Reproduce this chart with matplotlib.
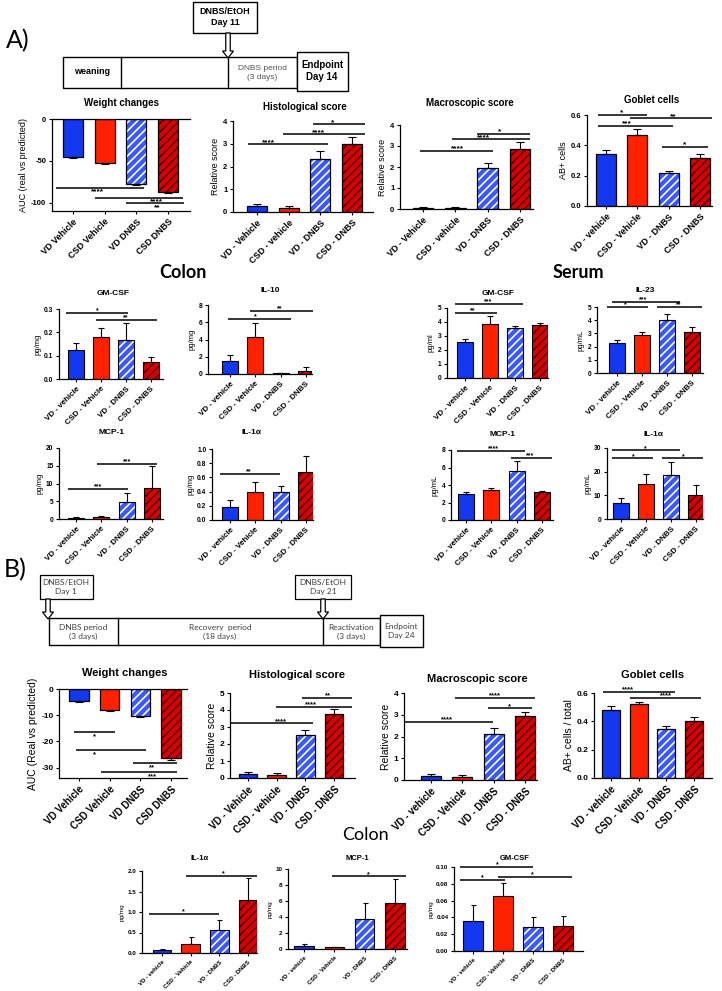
import matplotlib
matplotlib.use("Agg")
import matplotlib.pyplot as plt
from matplotlib.patches import Rectangle, FancyArrow

plt.rcParams['font.family'] = ['Liberation Sans', 'DejaVu Sans']
plt.rcParams['font.weight'] = 'bold'
plt.rcParams['hatch.linewidth'] = 1.2
plt.rcParams['axes.linewidth'] = 0.9

# ---------------- data ----------------
lab_weight = ["VD Vehicle", "CSD Vehicle", "VD DNBS", "CSD DNBS"]
lab_hist = ["VD - Vehicle", "CSD - vehicle", "VD - DNBS", "CSD - DNBS"]
lab_std = ["VD - vehicle", "CSD - Vehicle", "VD - DNBS", "CSD - DNBS"]

# Panel A, row 1
a_weight = [-46, -53, -78, -87]
a_weight_err = [1.0, 1.0, 1.5, 1.5]
a_hist = [0.25, 0.17, 2.35, 3.0]
a_hist_err = [0.12, 0.10, 0.33, 0.30]
a_macro = [0.05, 0.05, 1.93, 2.87]
a_macro_err = [0.05, 0.05, 0.28, 0.30]
a_goblet = [0.34, 0.47, 0.215, 0.315]
a_goblet_err = [0.028, 0.04, 0.018, 0.03]
# Panel A, colon cytokines
a_c_gmcsf = [0.125, 0.18, 0.168, 0.072]
a_c_gmcsf_err = [0.031, 0.037, 0.072, 0.023]
a_c_il10 = [1.55, 4.25, 0.08, 0.35]
a_c_il10_err = [0.7, 1.65, 0.08, 0.42]
a_c_mcp1 = [0.3, 0.5, 4.9, 8.8]
a_c_mcp1_err = [0.2, 0.25, 2.3, 6.1]
a_c_il1a = [0.19, 0.40, 0.39, 0.67]
a_c_il1a_err = [0.09, 0.14, 0.09, 0.23]
# Panel A, serum cytokines
a_s_gmcsf = [2.6, 3.85, 3.55, 3.77]
a_s_gmcsf_err = [0.22, 0.6, 0.15, 0.15]
a_s_il23 = [2.25, 2.85, 4.0, 3.1]
a_s_il23_err = [0.25, 0.22, 0.5, 0.4]
a_s_mcp1 = [2.95, 3.4, 5.6, 3.25]
a_s_mcp1_err = [0.2, 0.3, 1.15, 0.1]
a_s_il1a = [6.8, 15.0, 18.6, 10.3]
a_s_il1a_err = [2.0, 4.0, 5.5, 4.0]
# Panel B, row 1
b_weight = [-4.5, -8.0, -10.3, -26.5]
b_weight_err = [0.5, 0.5, 0.5, 0.6]
b_hist = [0.22, 0.17, 2.55, 3.78]
b_hist_err = [0.12, 0.12, 0.30, 0.27]
b_macro = [0.18, 0.12, 2.1, 2.92]
b_macro_err = [0.10, 0.10, 0.30, 0.22]
b_goblet = [0.48, 0.52, 0.345, 0.405]
b_goblet_err = [0.025, 0.02, 0.02, 0.025]
# Panel B, colon cytokines
b_il1a = [0.07, 0.22, 0.57, 1.29]
b_il1a_err = [0.03, 0.16, 0.23, 0.53]
b_mcp1 = [0.4, 0.2, 3.7, 5.7]
b_mcp1_err = [0.2, 0.1, 2.0, 3.1]
b_gmcsf = [0.036, 0.065, 0.028, 0.030]
b_gmcsf_err = [0.019, 0.016, 0.012, 0.012]

# significance annotations: (from, to, y, label, label x)
a_weight_sig = [(-0.54, 2.24, -82, '****', 0.76), (0.69, 3.47, -94, '****', 2.65),
                (1.67, 3.52, -101, '**', 2.65)]
a_hist_sig = [(-0.28, 2.24, 2.98, '****', 0.35), (0.82, 3.41, 3.42, '****', 1.93),
              (1.77, 3.41, 3.85, '*', 2.4)]
a_macro_sig = [(-0.09, 2.17, 2.78, '****', 1.08), (0.9, 3.31, 3.32, '****', 1.86),
               (1.67, 3.31, 3.57, '*', 2.38)]
a_goblet_sig = [(-0.26, 1.31, 0.60, '*', 0.51), (0.77, 3.39, 0.578, '**', 2.14),
                (-0.26, 2.14, 0.527, '***', 0.67), (1.79, 3.26, 0.39, '*', 2.52)]
a_c_gmcsf_sig = [(-0.4, 2.08, 0.283, '*', 0.84), (0.8, 3.24, 0.253, '**', 2.0)]
a_c_il10_sig = [(-0.08, 2.41, 6.4, '*', 1.0), (0.79, 3.28, 7.3, '**', 1.98)]
a_c_mcp1_sig = [(0.83, 3.2, 15.5, '***', 2.0), (-0.32, 2.06, 8.5, '***', 0.87)]
a_c_il1a_sig = [(-0.4, 1.98, 0.65, '**', 0.72)]
a_s_gmcsf_sig = [(-0.4, 2.32, 5.3, '***', 0.92), (-0.4, 1.28, 4.65, '**', 0.32)]
a_s_il23_sig = [(-0.2, 2.52, 5.4, '***', 1.04), (-0.4, 1.24, 5.0, '*', 0.32),
                (1.6, 3.4, 5.0, '**', 2.48)]
a_s_mcp1_sig = [(-0.36, 2.33, 7.9, '****', 1.07), (1.78, 3.4, 7.1, '***', 2.53)]
a_s_il1a_sig = [(-0.36, 2.36, 29, '*', 0.96), (-0.36, 1.28, 25.7, '*', 0.48),
                (1.64, 3.28, 25.7, '*', 2.48)]
b_weight_sig = [(-0.16, 1.17, -16.4, '*', 0.5), (-0.1, 2.2, -23.3, '*', 0.5),
                (1.76, 3.2, -28.4, '**', 2.38), (0.72, 3.2, -31.6, '***', 2.38)]
b_hist_sig = [(-0.63, 2.26, 3.22, '****', 1.15), (0.98, 3.62, 4.2, '****', 2.2),
              (1.88, 3.62, 4.7, '**', 2.79)]
b_macro_sig = [(-0.83, 1.98, 2.67, '****', 0.51), (1.82, 3.23, 3.3, '*', 2.5),
               (0.77, 3.32, 3.77, '****', 2.05)]
b_goblet_sig = [(-0.29, 2.31, 0.61, '****', 0.61), (0.69, 3.25, 0.565, '****', 2.0)]
b_il1a_sig = [(-0.45, 1.99, 0.96, '*', 0.73), (0.84, 3.31, 1.88, '*', 2.13)]
b_mcp1_sig = [(0.92, 3.37, 9.1, '*', 2.11)]
b_gmcsf_sig = [(-0.43, 2.0, 0.1, '*', 0.8), (-0.43, 1.07, 0.085, '*', 0.3),
               (0.83, 3.3, 0.088, '*', 1.97)]

# ---------------- figure ----------------
W, H = 722, 991
fig = plt.figure(figsize=(W / 100, H / 100), dpi=100)
fig.patch.set_facecolor('white')

BLUE = '#1437f0'
RED = '#ff2200'
HBLUE_FACE = '#3a58ff'
HRED_FACE = '#d80000'
HRED_LINE = '#5a0000'


def fx(x):
    return x / W


def fy(y):
    return 1 - y / H


def hbar(ax, x, h, w, face, hc):
    try:
        ax.bar(x, h, w, color=face, edgecolor=hc, hatch='////', linewidth=0,
               hatchcolor=hc, zorder=2)
    except Exception:
        ax.bar(x, h, w, color=face, edgecolor=hc, hatch='////', linewidth=0,
               zorder=2)


def chart(rect, centers, ylim, yticks, yfmt, vals, errs, xlabels, ylabel,
          title, title_xy, sigs, fs, neg=False):
    tfs, xfs, ylfs, titfs, sfs, cap, blw = fs
    l, r, t, b = rect
    ax = fig.add_axes([fx(l), fy(b), (r - l) / W, (b - t) / H])
    c0, c3 = centers
    sp = (c3 - c0) / 3.0
    ax.set_xlim((l - c0) / sp, (r - c0) / sp)
    ax.set_ylim(*ylim)
    wdt = 0.64
    ax.bar(0, vals[0], wdt, color=BLUE, zorder=2)
    ax.bar(1, vals[1], wdt, color=RED, zorder=2)
    hbar(ax, 2, vals[2], wdt, HBLUE_FACE, 'white')
    hbar(ax, 3, vals[3], wdt, HRED_FACE, HRED_LINE)
    ax.bar(range(4), vals, wdt, fill=False, edgecolor='black', linewidth=blw, zorder=3)
    zeros = [0] * 4
    yerr = [errs, zeros] if neg else [zeros, errs]
    ax.errorbar(range(4), vals, yerr=yerr, fmt='none', ecolor='black',
                elinewidth=0.8, capsize=cap, capthick=0.8, zorder=4)
    ax.spines['right'].set_visible(False)
    ax.spines['top'].set_visible(neg)
    ax.set_yticks(yticks)
    ax.set_yticklabels([yfmt.format(v) for v in yticks], fontsize=tfs)
    ax.set_xticks(range(4))
    ax.set_xticklabels(xlabels, rotation=45, ha='right', rotation_mode='anchor',
                       fontsize=xfs)
    ax.tick_params(axis='y', length=2.5, width=0.8, pad=1.5)
    ax.tick_params(axis='x', length=2.5, width=0.8, pad=2)
    ax.set_ylabel(ylabel, fontsize=ylfs, labelpad=2)
    ax.patch.set_alpha(0)
    for (x1, x2, y, lab, lx) in sigs:
        ax.plot([x1, x2], [y, y], color='black', lw=1.1, clip_on=False, zorder=5,
                solid_capstyle='butt')
        if neg:
            ax.annotate(lab, (lx, y), xytext=(0, -0.8), textcoords='offset points',
                        ha='center', va='top', fontsize=sfs, annotation_clip=False)
        else:
            ax.annotate(lab, (lx, y), xytext=(0, 0.3), textcoords='offset points',
                        ha='center', va='baseline', fontsize=sfs, annotation_clip=False)
    fig.text(fx(title_xy[0]), fy(title_xy[1]), title, ha='center', va='center',
             fontsize=titfs)
    return ax


FS_A1 = (5.5, 6.5, 6.5, 7, 6, 2.8, 0.9)
FS_A2 = (4.8, 5.8, 5.5, 6, 5, 2.2, 0.8)
FS_B1 = (6, 7, 7.5, 8, 5.5, 2.6, 0.9)
FS_B2 = (4.5, 4.3, 4.6, 5.5, 5, 1.8, 0.8)

# ---- Panel A row 1 ----
chart((52, 190, 119, 211), (73, 168), (-110, 0), [0, -50, -100], '{:g}',
      a_weight, a_weight_err, lab_weight, 'AUC (real vs predicted)',
      'Weight changes', (122, 103), a_weight_sig, FS_A1, neg=True)
chart((233, 373, 121, 212), (257, 352), (0, 4), [0, 1, 2, 3, 4], '{:g}',
      a_hist, a_hist_err, lab_hist, 'Relative score',
      'Histological score', (305, 107), a_hist_sig, FS_A1)
chart((400, 533, 125, 209), (423, 520), (0, 4), [0, 1, 2, 3, 4], '{:g}',
      a_macro, a_macro_err, lab_hist, 'Relative score',
      'Macroscopic score', (470, 103), a_macro_sig, FS_A1)
chart((587, 712, 115, 206), (606, 700), (0, 0.6), [0, 0.2, 0.4, 0.6], '{:.1f}',
      a_goblet, a_goblet_err, lab_std, 'AB+ cells',
      'Goblet cells', (652, 100), a_goblet_sig, FS_A1)

# ---- Panel A rows 2-3 ----
chart((59, 163, 309, 379), (76, 151), (0, 0.3), [0, 0.1, 0.2, 0.3], '{:.1f}',
      a_c_gmcsf, a_c_gmcsf_err, lab_std, 'pg/mg', 'GM-CSF', (113, 293),
      a_c_gmcsf_sig, FS_A2)
chart((208, 312, 305, 374), (230, 306), (0, 8), [0, 2, 4, 6, 8], '{:g}',
      a_c_il10, a_c_il10_err, lab_std, 'pg/mg', 'IL-10', (270, 290),
      a_c_il10_sig, FS_A2)
chart((447, 548, 308, 378), (465, 540), (0, 5), [0, 1, 2, 3, 4, 5], '{:g}',
      a_s_gmcsf, a_s_gmcsf_err, lab_std, 'pg/ml', 'GM-CSF', (498, 293),
      a_s_gmcsf_sig, FS_A2)
chart((597, 703, 307, 373), (617, 692), (0, 5), [0, 1, 2, 3, 4, 5], '{:g}',
      a_s_il23, a_s_il23_err, lab_std, 'pg/mL', 'IL-23', (645, 290),
      a_s_il23_sig, FS_A2)
chart((59, 163, 448, 519), (76, 152), (0, 20), [0, 5, 10, 15, 20], '{:g}',
      a_c_mcp1, a_c_mcp1_err, lab_std, 'pg/mg', 'MCP-1', (112, 433),
      a_c_mcp1_sig, FS_A2)
chart((212, 313, 449, 520), (230, 306), (0, 1.0), [0, 0.2, 0.4, 0.6, 0.8, 1.0], '{:.1f}',
      a_c_il1a, a_c_il1a_err, lab_std, 'pg/mg', 'IL-1\u03b1', (252, 433),
      a_c_il1a_sig, FS_A2)
chart((451, 553, 450, 520), (466, 542), (0, 8), [0, 2, 4, 6, 8], '{:g}',
      a_s_mcp1, a_s_mcp1_err, lab_std, 'pg/mL', 'MCP-1', (503, 434),
      a_s_mcp1_sig, FS_A2)
chart((607, 703, 448, 519), (621, 696), (0, 30), [0, 10, 20, 30], '{:g}',
      a_s_il1a, a_s_il1a_err, lab_std, 'pg/mL', 'IL-1\u03b1', (653, 434),
      a_s_il1a_sig, FS_A2)

# ---- Panel B row 1 ----
chart((59, 187, 689, 778), (79, 171), (-34, 0), [0, -10, -20, -30], '{:g}',
      b_weight, b_weight_err, lab_weight, 'AUC (Real vs predicted)',
      'Weight changes', (125, 673), b_weight_sig, FS_B1, neg=True)
chart((230, 355, 693, 778), (248, 334), (0, 5), [0, 1, 2, 3, 4, 5], '{:g}',
      b_hist, b_hist_err, lab_hist, 'Relative score',
      'Histological score', (297, 675), b_hist_sig, FS_B1)
chart((404, 537, 693, 780), (431, 525), (0, 4), [0, 1, 2, 3, 4], '{:g}',
      b_macro, b_macro_err, lab_std, 'Relative score',
      'Macroscopic score', (477, 679), b_macro_sig, FS_B1)
chart((594, 712, 693, 778), (611, 694), (0, 0.6), [0, 0.2, 0.4, 0.6], '{:.1f}',
      b_goblet, b_goblet_err, lab_std, 'AB+ cells / total',
      'Goblet cells', (653, 675), b_goblet_sig, FS_B1)

# ---- Panel B row 2 ----
chart((142, 257, 871, 953), (162, 248), (0, 2.0), [0, 0.5, 1.0, 1.5, 2.0], '{:.1f}',
      b_il1a, b_il1a_err, lab_std, 'pg/mg', 'IL-1\u03b1', (200, 858),
      b_il1a_sig, FS_B2)
chart((288, 407, 869, 949), (304, 395), (0, 10), [0, 2, 4, 6, 8, 10], '{:g}',
      b_mcp1, b_mcp1_err, lab_std, 'pg/mg', 'MCP-1', (357, 858),
      b_mcp1_sig, FS_B2)
chart((454, 583, 867, 951), (473, 563), (0, 0.1), [0, 0.02, 0.04, 0.06, 0.08, 0.10], '{:.2f}',
      b_gmcsf, b_gmcsf_err, lab_std, 'pg/mg', 'GM-CSF', (515, 858),
      b_gmcsf_sig, FS_B2)

# ---- section labels ----
fig.text(fx(183), fy(273), 'Colon', ha='center', va='center', fontsize=13,
         family=['Lato', 'DejaVu Sans'], weight='bold')
fig.text(fx(578), fy(272), 'Serum', ha='center', va='center', fontsize=13,
         family=['Lato', 'DejaVu Sans'], weight='bold')
fig.text(fx(365), fy(835), 'Colon', ha='center', va='center', fontsize=13,
         family=['Lato', 'DejaVu Sans'], weight='normal')
fig.text(fx(18), fy(41), 'A)', ha='center', va='center', fontsize=18,
         family=['Lato', 'DejaVu Sans'], weight='normal')
fig.text(fx(15), fy(570), 'B)', ha='center', va='center', fontsize=18,
         family=['Lato', 'DejaVu Sans'], weight='normal')

# ---- timelines (overlay in pixel coordinates) ----
ov = fig.add_axes([0, 0, 1, 1])
ov.set_xlim(0, W)
ov.set_ylim(H, 0)
ov.axis('off')
ov.patch.set_alpha(0)


def box(x0, y0, x1, y1, lw=1.0):
    ov.add_patch(Rectangle((x0, y0), x1 - x0, y1 - y0, facecolor='white',
                           edgecolor='black', lw=lw))


def arrow(x, y0, y1):
    ov.add_patch(FancyArrow(x, y0, 0, y1 - y0, width=4.5, head_width=11,
                            head_length=7, length_includes_head=True,
                            facecolor='white', edgecolor='black', lw=0.9))


# Timeline A
box(63, 57, 297, 88)
ov.plot([121, 121], [57, 88], color='black', lw=1.0)
ov.plot([228, 228], [57, 88], color='black', lw=1.0)
box(297, 52, 348, 91)
box(193, 2, 257, 33)
arrow(228, 33, 58)
ov.text(225, 17, 'DNBS/EtOH\nDay 11', ha='center', va='center', fontsize=6.5,
        linespacing=1.2)
ov.text(92, 72, 'weaning', ha='center', va='center', fontsize=6.5)
ov.text(262, 73, 'DNBS period\n(3 days)', ha='center', va='center', fontsize=6,
        weight='normal', color='#555555', linespacing=1.4)
ov.text(322, 71, 'Endpoint\nDay 14', ha='center', va='center', fontsize=7,
        linespacing=1.3)

# Timeline B
tl_font = ['Lato', 'DejaVu Sans']
box(49, 618, 380, 645, lw=1.0)
ov.plot([118, 118], [618, 645], color='black', lw=1.0)
ov.plot([323, 323], [618, 645], color='black', lw=1.0)
box(380, 615, 423, 647, lw=1.0)
box(40, 575, 93, 599, lw=0.9)
box(295, 575, 351, 599, lw=0.9)
arrow(48, 599, 619)
arrow(323, 599, 619)
ov.text(66, 587, 'DNBS/EtOH\nDay 1', ha='center', va='center', fontsize=6,
        weight='normal', family=tl_font, color='#404040', linespacing=1.2)
ov.text(323, 587, 'DNBS/EtOH\nDay 21', ha='center', va='center', fontsize=6,
        weight='normal', family=tl_font, color='#404040', linespacing=1.2)
ov.text(83, 632, 'DNBS period\n(3 days)', ha='center', va='center', fontsize=6,
        weight='normal', family=tl_font, color='#404040', linespacing=1.4)
ov.text(220, 632, 'Recovery  period\n(18 days)', ha='center', va='center', fontsize=6,
        weight='normal', family=tl_font, color='#404040', linespacing=1.4)
ov.text(351, 632, 'Reactivation\n(3 days)', ha='center', va='center', fontsize=6,
        weight='normal', family=tl_font, color='#404040', linespacing=1.4)
ov.text(401, 631, 'Endpoint\nDay 24', ha='center', va='center', fontsize=6,
        weight='normal', family=tl_font, color='#404040', linespacing=1.4)

fig.savefig('out.png', dpi=100, facecolor='white')
